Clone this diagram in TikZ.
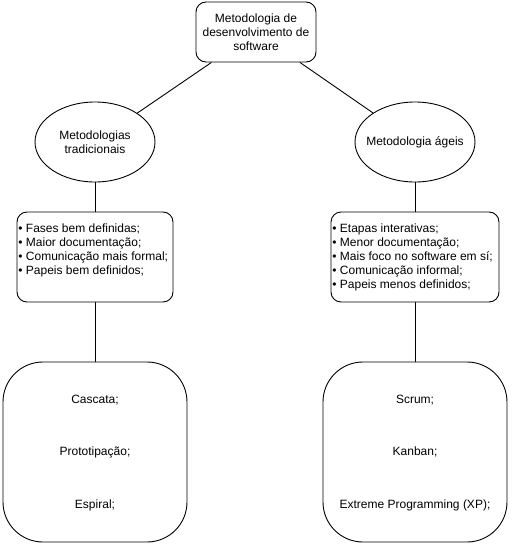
\documentclass[tikz,border=0pt]{standalone}
\usepackage{fontspec}
\setmainfont{Liberation Sans}
\usetikzlibrary{shapes.geometric}
\begin{document}
\begin{tikzpicture}[x=1pt,y=-1pt, line width=0.9pt,
  every node/.style={font=\fontsize{12}{14}\selectfont},
  rbox/.style={draw, rounded corners=10pt, inner sep=0pt},
  bigbox/.style={draw, rounded corners=40pt, minimum width=184pt, minimum height=180pt, inner sep=0pt},
  ell/.style={draw, ellipse, minimum width=120pt, minimum height=80pt, inner sep=0pt},
  txt/.style={inner sep=0pt, align=center},
  list/.style={anchor=north west, align=left, inner sep=0pt}]
\useasboundingbox (0,0) rectangle (512,546);
\node[rbox, minimum width=120pt, minimum height=60pt, align=center] (top) at (256,32) {Metodologia de\\desenvolvimento de\\software};
\node[ell] (l) at (95,142) {};
\node[ell] (r) at (415,142) {};
\node[txt] (lt0) at (95,142) {Metodologias\\tradicionais};
\node[txt] (rt0) at (415,142) {Metodologia ágeis};
\node[rbox, minimum width=156pt, minimum height=90pt] (lb) at (95,257) {};
\node[rbox, minimum width=168pt, minimum height=90pt] (rb) at (415,257) {};
\node[list] (lt) at (18,223) {• Fases bem definidas;\\• Maior documentação;\\• Comunicação mais formal;\\• Papeis bem definidos;};
\node[list] (rt) at (332,223) {• Etapas interativas;\\• Menor documentação;\\• Mais foco no software em sí;\\• Comunicação informal;\\• Papeis menos definidos;};
\node[bigbox] (lc) at (95,452) {};
\node[bigbox] (rc) at (415,452) {};
\node[txt] (l1) at (95,400) {Cascata;};
\node[txt] (l2) at (95,452) {Prototipação;};
\node[txt] (l3) at (95,505) {Espiral;};
\node[txt] (r1) at (415,400) {Scrum;};
\node[txt] (r2) at (415,452) {Kanban;};
\node[txt] (r3) at (415,505) {Extreme Programming (XP);};
\draw (top) -- (l);
\draw (top) -- (r);
\draw (l) -- (lb);
\draw (r) -- (rb);
\draw (lb) -- (lc);
\draw (rb) -- (rc);
\end{tikzpicture}
\end{document}
